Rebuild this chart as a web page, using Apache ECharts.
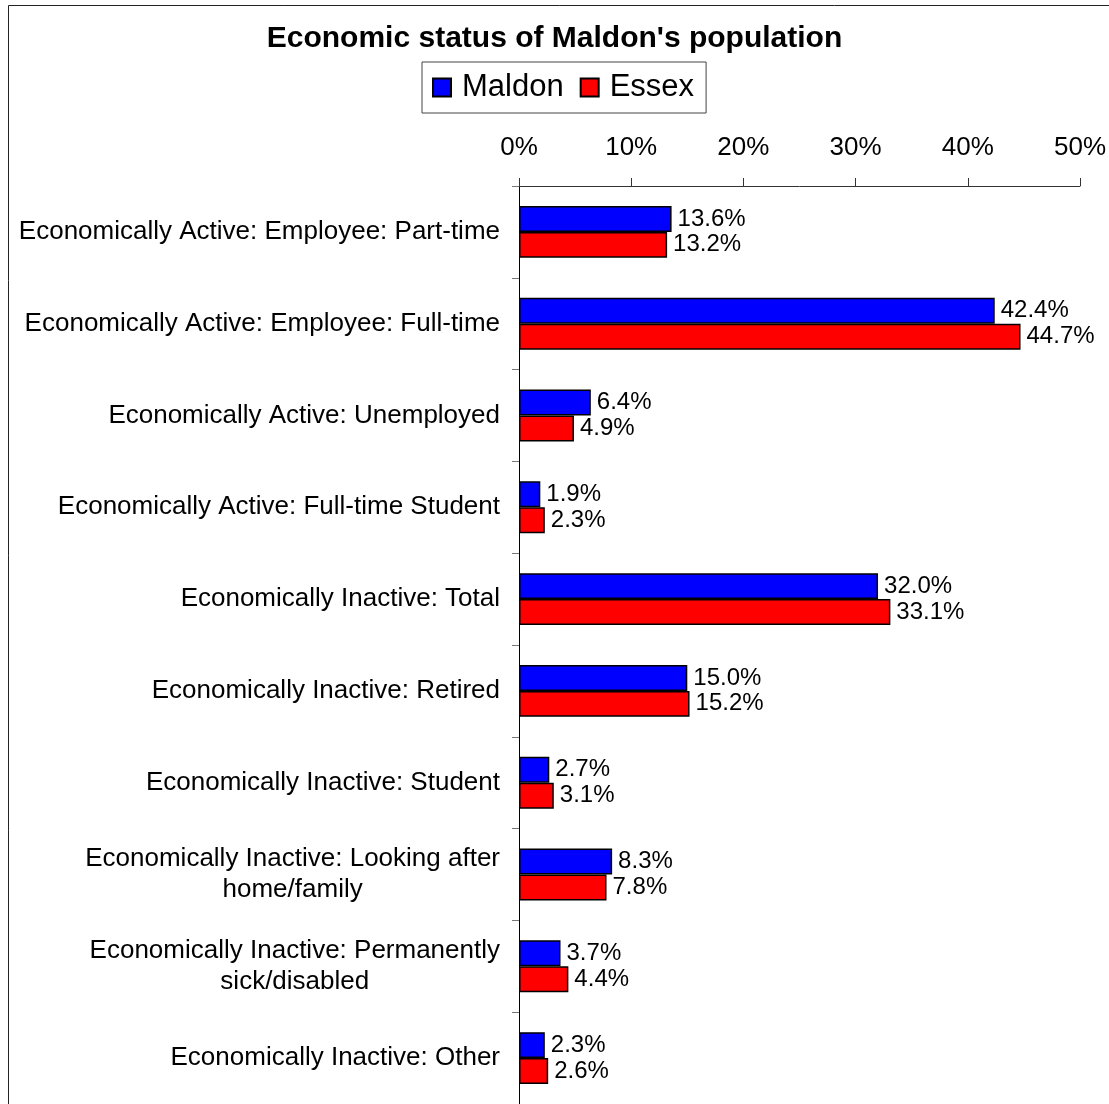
<!DOCTYPE html>
<html>
<head>
<meta charset="utf-8">
<script src="https://cdn.jsdelivr.net/npm/echarts@6/dist/echarts.min.js"></script>
<style>
  html, body { margin: 0; padding: 0; background: #fff; }
  #chart { width: 1109px; height: 1104px; }
</style>
</head>
<body>
<div id="chart"></div>
<script>
// Economic status categories (top to bottom)
const categories = [
  'Economically Active: Employee: Part-time',
  'Economically Active: Employee: Full-time',
  'Economically Active: Unemployed',
  'Economically Active: Full-time Student',
  'Economically Inactive: Total',
  'Economically Inactive: Retired',
  'Economically Inactive: Student',
  'Economically Inactive: Looking after\nhome/family',
  'Economically Inactive: Permanently\nsick/disabled',
  'Economically Inactive: Other'
];
// Share of population, percent
const maldon = [13.6, 42.4, 6.4, 1.9, 32.0, 15.0, 2.7, 8.3, 3.7, 2.3];
const essex  = [13.2, 44.7, 4.9, 2.3, 33.1, 15.2, 3.1, 7.8, 4.4, 2.6];
const xTicks = [0, 10, 20, 30, 40, 50];

const FONT = '"Liberation Sans", Arial, sans-serif';
const chart = echarts.init(document.getElementById('chart'));

const valueLabel = {
  show: true,
  position: 'right',
  distance: 6,
  fontFamily: FONT,
  fontSize: 24,
  color: '#000',
  formatter: p => p.value.toFixed(1) + '%'
};

chart.setOption({
  animation: false,
  backgroundColor: '#fff',
  graphic: [{
    type: 'rect',
    silent: true,
    z: -10,
    shape: { x: 8.5, y: 5.5, width: 1200, height: 1200 },
    style: { fill: 'none', stroke: '#222', lineWidth: 1 }
  }],
  title: {
    text: "Economic status of Maldon's population",
    left: 'center',
    top: 19,
    textStyle: { fontFamily: FONT, fontSize: 30, fontWeight: 'bold', color: '#000' }
  },
  legend: {
    left: 422,
    top: 62,
    padding: [10, 12, 10, 10],
    itemGap: 16,
    itemWidth: 18,
    itemHeight: 18,
    borderColor: '#444',
    borderWidth: 1,
    icon: 'rect',
    textStyle: { fontFamily: FONT, fontSize: 31, color: '#000', padding: [0, 0, 0, 6] },
    data: ['Maldon', 'Essex']
  },
  grid: { left: 519, top: 186, width: 563, height: 920, containLabel: false },
  xAxis: {
    type: 'value',
    position: 'top',
    min: xTicks[0],
    max: xTicks[xTicks.length - 1],
    interval: 10,
    splitLine: { show: false },
    axisLine: { show: true, lineStyle: { color: '#333', width: 1 } },
    axisTick: { show: true, length: 8, lineStyle: { color: '#333' } },
    axisLabel: {
      margin: 25,
      fontFamily: FONT,
      fontSize: 26,
      color: '#000',
      formatter: v => v + '%'
    }
  },
  yAxis: {
    type: 'category',
    inverse: true,
    data: categories,
    axisLine: { show: true, lineStyle: { color: '#000', width: 1 } },
    axisTick: { show: true, length: 7, lineStyle: { color: '#777' } },
    axisLabel: {
      margin: 19,
      align: 'right',
      fontFamily: FONT,
      fontSize: 26,
      color: '#000',
      lineHeight: 31,
      formatter: v => '{c|' + v + '}',
      rich: { c: { align: 'center', fontFamily: FONT, fontSize: 26, lineHeight: 31, color: '#000' } }
    }
  },
  series: [
    {
      name: 'Maldon',
      type: 'bar',
      data: maldon,
      barGap: '0%',
      barCategoryGap: '43.5%',
      itemStyle: { color: '#0000ff', borderColor: '#000', borderWidth: 1.5 },
      label: valueLabel
    },
    {
      name: 'Essex',
      type: 'bar',
      data: essex,
      barGap: '0%',
      barCategoryGap: '43.5%',
      itemStyle: { color: '#ff0000', borderColor: '#000', borderWidth: 1.5 },
      label: valueLabel
    }
  ]
});
</script>
</body>
</html>
